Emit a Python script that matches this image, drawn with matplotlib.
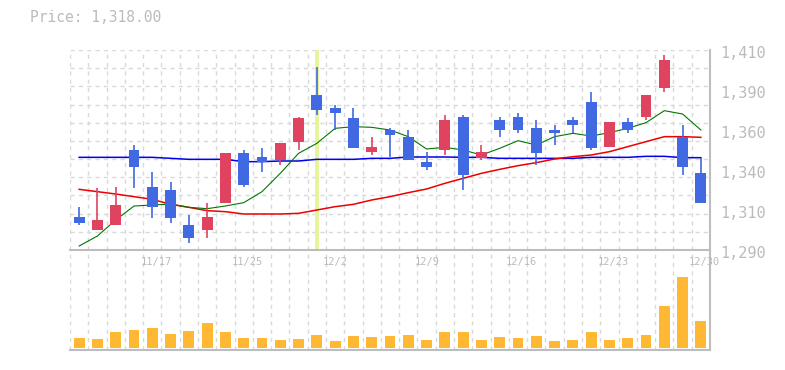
import matplotlib
matplotlib.use("Agg")
import matplotlib.pyplot as plt
import matplotlib.transforms as mtransforms
import numpy as np

# ---- data ----
tick_idx = [4, 9, 14, 19, 24, 29, 34]
tick_labels = ['11/17', '11/25', '12/2', '12/9', '12/16', '12/23', '12/30']

opens = [1310, 1302, 1305, 1350, 1328, 1326, 1305, 1302, 1318, 1348, 1346, 1344, 1355, 1383, 1375,
         1369, 1349, 1362, 1358, 1343, 1350, 1370, 1345, 1368, 1370, 1363, 1362, 1368, 1379, 1352,
         1367, 1370, 1387, 1358, 1336]
closes = [1306, 1308, 1317, 1340, 1316, 1309, 1297, 1310, 1348, 1329, 1343, 1354, 1369, 1374, 1372,
          1351, 1352, 1359, 1344, 1340, 1368, 1335, 1349, 1362, 1362, 1348, 1360, 1365, 1351, 1367,
          1362, 1383, 1404, 1340, 1318]
highs = [1316, 1327, 1328, 1353, 1337, 1331, 1311, 1318, 1348, 1350, 1351, 1354, 1370, 1400, 1377,
         1375, 1358, 1363, 1362, 1349, 1371, 1371, 1353, 1370, 1372, 1368, 1365, 1370, 1385, 1367,
         1369, 1383, 1407, 1365, 1345]
lows = [1305, 1302, 1305, 1327, 1309, 1306, 1294, 1297, 1318, 1328, 1337, 1341, 1350, 1371, 1362,
        1351, 1347, 1346, 1344, 1338, 1347, 1326, 1344, 1358, 1360, 1341, 1353, 1360, 1350, 1352,
        1360, 1368, 1385, 1335, 1318]

ma_short = [1292.4, 1298.4, 1308, 1316.4, 1317, 1317.6, 1315.6, 1314.8, 1316.4, 1318.4, 1325, 1336,
            1348, 1354, 1363, 1364, 1363.6, 1362, 1358, 1350.6, 1351.6, 1350, 1347, 1351, 1355.6,
            1353, 1358, 1360, 1358.4, 1360.4, 1363, 1366.4, 1373.6, 1371.6, 1362]
ma_mid = [1326.4, 1325.0, 1323.6, 1322.0, 1320.4, 1317.4, 1315.6, 1313.6, 1313.0, 1311.6, 1311.6,
          1311.6, 1312.0, 1314.0, 1316.0, 1317.4, 1320.0, 1322.0, 1324.4, 1326.6, 1330.0, 1333.0,
          1336.0, 1338.4, 1340.6, 1342.4, 1344.6, 1346.0, 1347.0, 1349.0, 1352.0, 1355.0, 1358.0,
          1358.0, 1357.6]
ma_long = [1345.6, 1345.6, 1345.6, 1345.6, 1345.6, 1345.0, 1344.4, 1344.4, 1344.4, 1343.0, 1343.0,
           1343.4, 1343.4, 1344.4, 1344.4, 1344.4, 1345.0, 1345.0, 1345.8, 1345.8, 1345.8, 1345.6,
           1345.6, 1345.0, 1345.0, 1345.0, 1345.0, 1345.0, 1345.6, 1345.6, 1345.6, 1346.2, 1346.2,
           1345.4, 1345.4]

volumes = [10, 9, 16, 18, 20, 14, 17, 25, 16, 10, 10, 8, 9, 13, 7, 12, 11, 12, 13, 8, 16, 16, 8,
           11, 10, 12, 7, 8, 16, 8, 10, 13, 42, 71, 27]  # thousands

y_label_vals = [1290, 1314, 1338, 1362, 1386, 1410]
y_label_txt = ['1,290', '1,310', '1,340', '1,360', '1,390', '1,410']
title = 'Price: 1,318.00'
highlight_idx = 13

# ---- style ----
UP = '#e0435f'
DOWN = '#4169e1'
GRID = '#d9d9d9'
SPINE = '#bdbdbd'
TXT = '#bbbbbb'
W, H = 785, 370

fig = plt.figure(figsize=(W / 100, H / 100), dpi=100)
axv = fig.add_axes([70 / W, 1 - 350 / H, 640 / W, 100 / H])
ax = fig.add_axes([70 / W, 1 - 250 / H, 640 / W, 200 / H], sharex=axv)
ax.set_zorder(3)
axv.set_zorder(1)
axv.patch.set_alpha(0)

n = len(opens)
x = np.arange(n)
ymin, ymax = 1290, 1410

for a in (ax, axv):
    for s in ('left', 'top'):
        a.spines[s].set_visible(False)
    for s in ('right', 'bottom'):
        a.spines[s].set_color(SPINE)
        a.spines[s].set_linewidth(1.5)
    a.tick_params(length=0, labelleft=False, labelbottom=False)
    a.set_xticks(np.arange(n + 1) - 0.5)
    a.xaxis.grid(True, color=GRID, linestyle=(0, (3, 3)), linewidth=1)
    a.set_axisbelow(True)

ax.set_xlim(-0.5, n - 0.5)
ax.set_ylim(ymin, ymax)
ax.set_yticks(np.linspace(ymin, ymax, 12))
ax.yaxis.grid(True, color=GRID, linestyle=(0, (3, 3)), linewidth=1)
axv.set_yticks([])

# highlight
ax.axvspan(highlight_idx - 0.1, highlight_idx + 0.1, color='#e6f59c', zorder=1, lw=0)

# moving averages
ax.plot(x, ma_long, color='#0000ee', lw=1.1, zorder=2)
ax.plot(x, ma_mid, color='#ee0000', lw=1.1, zorder=2)
ax.plot(x, ma_short, color='#007700', lw=0.8, zorder=2)

# candles
bw = 0.6
for i in range(n):
    o, c, h, l = opens[i], closes[i], highs[i], lows[i]
    col = UP if c > o else DOWN
    ax.vlines(i, l, h, color=col, lw=1.2, zorder=3)
    bottom = min(o, c)
    height = max(abs(c - o), 0.6)
    ax.bar(i, height, bottom=bottom, width=bw, color=col, zorder=4, linewidth=0)

# volume
axv.bar(x, volumes, width=bw, color='#ffb833', zorder=3, linewidth=0)
axv.set_ylim(-2.3, 97.7)

# y labels on right
off = mtransforms.ScaledTranslation(10 / 100, -3 / 100, fig.dpi_scale_trans)
for v, t in zip(y_label_vals, y_label_txt):
    ax.text(1.0, v, t, transform=ax.get_yaxis_transform() + off, ha='left', va='center',
            fontsize=11, color=TXT, family='DejaVu Sans Mono', clip_on=False)

# x labels
offx = mtransforms.ScaledTranslation(-12 / 100, -7 / 100, fig.dpi_scale_trans)
for i, t in zip(tick_idx, tick_labels):
    ax.text(i, 0.0, t, transform=ax.get_xaxis_transform() + offx, ha='left', va='top',
            fontsize=7.5, color=TXT, family='DejaVu Sans Mono', clip_on=False, zorder=10)

fig.text(30 / W, 1 - 18 / H, title, ha='left', va='center', fontsize=10.5,
         color=TXT, family='DejaVu Sans Mono')

fig.savefig('out.png', dpi=100)
